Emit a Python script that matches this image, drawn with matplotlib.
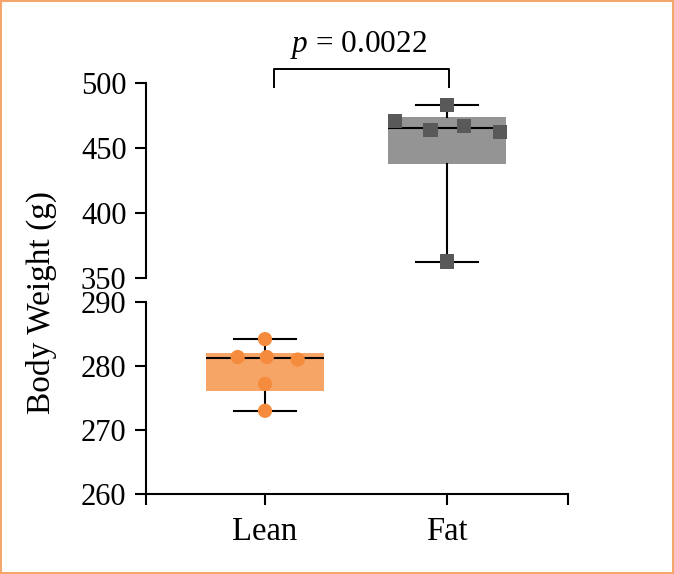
import numpy as np
import matplotlib
matplotlib.use("Agg")
import matplotlib.pyplot as plt
from matplotlib.patches import Rectangle

# ---- data ----
categories = ["Lean", "Fat"]
lean_values = [284.2, 281.4, 281.4, 281.0, 277.2, 273.0]
fat_values = [483.1, 471.0, 466.9, 463.8, 462.5, 362.6]
p_text = "0.0022"
top_ticks = [350, 400, 450, 500]
bottom_ticks = [260, 270, 280, 290]
ylabel = "Body Weight (g)"

# ---- layout / style ----
lean_jitter = [0.0, -0.15, 0.01, 0.18, 0.0, 0.0]
fat_jitter = [0.0, -0.286, 0.095, -0.09, 0.29, 0.0]
box_colors = ["#F7A566", "#949494"]
pt_colors = ["#F58B3C", "#595959"]
markers = ["o", "s"]
xlim = (-0.654, 1.665)

plt.rcParams["font.family"] = ["Liberation Serif", "DejaVu Serif"]
plt.rcParams["mathtext.fontset"] = "custom"
plt.rcParams["mathtext.rm"] = "Liberation Serif"
plt.rcParams["mathtext.it"] = "Liberation Serif:italic"

fig = plt.figure(figsize=(6.74, 5.74), dpi=100)
ax_top = fig.add_axes([0.2166, 0.5157, 0.6261, 0.3397])
ax_bot = fig.add_axes([0.2166, 0.1394, 0.6261, 0.3345])


def stats(vals, label):
    v = np.asarray(vals)
    q1, med, q3 = np.percentile(v, [25, 50, 75], method="weibull")
    return dict(label=label, med=med, q1=q1, q3=q3,
                whislo=v.min(), whishi=v.max(), fliers=[])


groups = [lean_values, fat_values]
jitters = [lean_jitter, fat_jitter]

for ax in (ax_top, ax_bot):
    for i, (vals, jit) in enumerate(zip(groups, jitters)):
        ax.bxp([stats(vals, categories[i])], positions=[i], widths=0.648,
               capwidths=0.34, patch_artist=True, manage_ticks=False,
               boxprops=dict(facecolor=box_colors[i], edgecolor="none"),
               medianprops=dict(color="black", lw=1.5),
               whiskerprops=dict(color="black", lw=1.5),
               capprops=dict(color="black", lw=1.5), zorder=2)
        ax.scatter(np.array(jit) + i, vals, s=105, marker=markers[i],
                   color=pt_colors[i], edgecolors="none", zorder=3)
    ax.set_xlim(*xlim)
    for s in ("top", "right"):
        ax.spines[s].set_visible(False)
    ax.spines["left"].set_linewidth(1.5)
    ax.spines["bottom"].set_linewidth(1.5)
    ax.tick_params(axis="both", width=1.5, length=8, labelsize=22, pad=6)

ax_top.set_ylim(350, 500)
ax_top.set_yticks(top_ticks)
ax_top.spines["bottom"].set_visible(False)
ax_top.set_xticks([])

ax_bot.set_ylim(260, 290)
ax_bot.set_yticks(bottom_ticks)
ax_bot.set_xticks([xlim[0], 0, 1, xlim[1]])
ax_bot.set_xticklabels([""] + categories + [""])
ax_bot.tick_params(axis="x", pad=8, labelsize=23.5)

# significance bracket
bx = [0.05, 0.05, 1.013, 1.013]
by = [497.2, 510.8, 510.8, 497.2]
ax_top.plot(bx, by, color="black", lw=1.4, clip_on=False)
ax_top.text(0.516, 523.5, r"$p$ = " + p_text, ha="center", va="baseline",
            fontsize=22.5, clip_on=False)

fig.text(41 / 674, 1 - 303 / 574, ylabel, rotation=90, ha="center",
         va="center", fontsize=24)

fig.patches.append(Rectangle((0.0015, 0.0015), 0.997, 0.997,
                             transform=fig.transFigure, fill=False,
                             edgecolor="#F5A66A", lw=1.5))

fig.savefig("out.png", dpi=100)
